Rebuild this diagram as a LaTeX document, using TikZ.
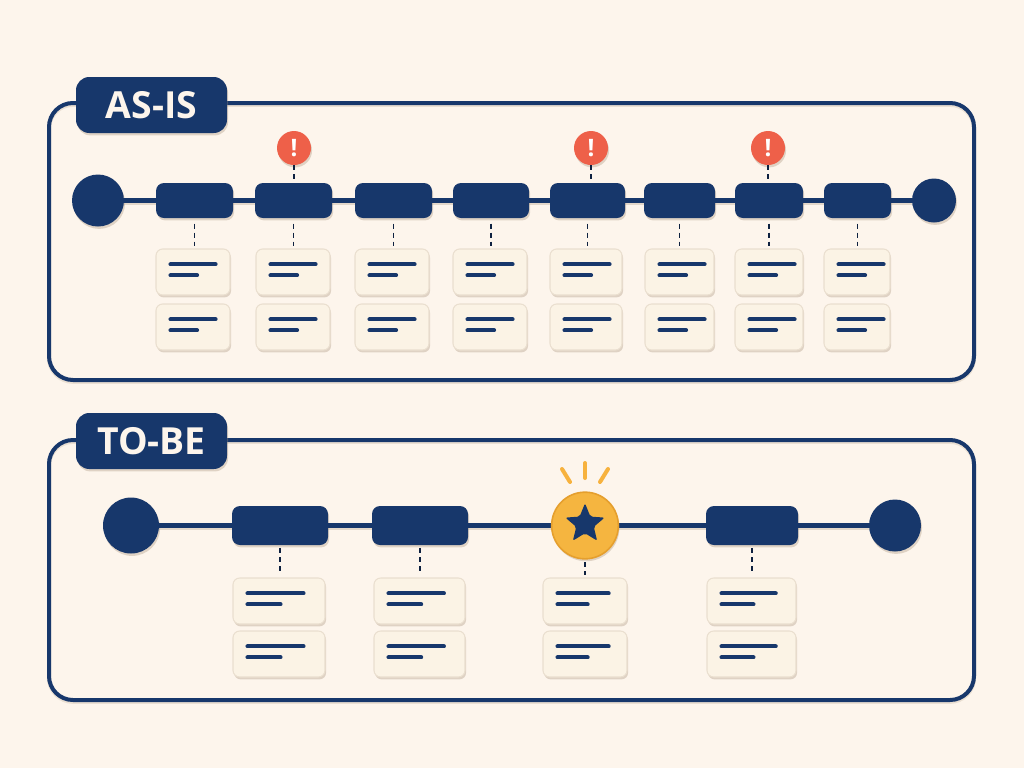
\documentclass[tikz,border=0pt]{standalone}
\usepackage{fontspec}
\setmainfont{Open Sans}
\usetikzlibrary{shadows,shapes.geometric}
\definecolor{bgc}{HTML}{FDF5EC}
\definecolor{navy}{HTML}{17376B}
\definecolor{cardc}{HTML}{FBF3E5}
\definecolor{cardb}{HTML}{EADFCF}
\definecolor{shc}{HTML}{A8937A}
\definecolor{redc}{HTML}{EE6049}
\definecolor{goldc}{HTML}{F5B540}
\definecolor{goldd}{HTML}{E59F2E}
\definecolor{rayc}{HTML}{F7B23E}
\tikzset{
  softshadow/.style={drop shadow={shadow xshift=0.8pt,shadow yshift=-1.8pt,opacity=.35,fill=shc}},
  panelbox/.style={draw=navy,line width=3pt,rounded corners=18pt,inner sep=0pt,outer sep=0pt,
    preaction={draw=shc,opacity=.22,line width=3pt,transform canvas={yshift=-1.4pt}}},
  tabbox/.style={fill=navy,rounded corners=10pt,inner sep=0pt,text=bgc,font=\bfseries\fontsize{28}{30}\selectfont,softshadow},
  stepbox/.style={fill=navy,rounded corners=6pt,inner sep=0pt,softshadow},
  endcircle/.style={circle,fill=navy,inner sep=0pt,softshadow},
  cardbox/.style={fill=cardc,draw=cardb,line width=.8pt,rounded corners=5pt,inner sep=0pt,softshadow},
  alertnode/.style={circle,fill=redc,inner sep=0pt,minimum size=25.5pt,text=white,
    font=\bfseries\fontsize{18}{18}\selectfont,softshadow},
  starcircle/.style={circle,fill=goldc,draw=goldd,line width=1.2pt,inner sep=0pt,minimum size=50pt,softshadow},
  starnode/.style={star,star points=5,star point ratio=2.25,fill=navy,inner sep=0pt,minimum size=31pt,rounded corners=1.5pt},
  flowline/.style={draw=navy,line width=3.8pt,preaction={draw=shc,opacity=.3,line width=3.8pt,transform canvas={yshift=-1.6pt}}},
  dashline/.style={draw=navy!60!black,line width=1.3pt,dash pattern=on 3.8pt off 3pt},
  textline/.style={draw=navy,line width=3pt,line cap=round},
  rayline/.style={draw=rayc,line width=3pt,line cap=round},
}
\newcommand{\rnode}[7]{\node[#1,minimum width={(#4-#3)*0.75pt},minimum height={(#6-#5)*0.75pt}] (#2) at ({(#3+#4)/2},{(#5+#6)/2}) {#7};}
\newcommand{\cardlines}[2]{% card name, width in px
  \pgfmathsetmacro{\lw}{#2*0.61}\pgfmathsetmacro{\ls}{#2*0.36}
  \draw[textline] ([shift={(15,16)}]#1.north west) -- ++(\lw,0);
  \draw[textline] ([shift={(15,27)}]#1.north west) -- ++(\ls,0);
}
\begin{document}
\begin{tikzpicture}[x=0.75pt,y=-0.75pt]
\useasboundingbox (0,0) rectangle (1024,768);
\fill[bgc] (0,0) rectangle (1024,768);

% ---------- AS-IS ----------
\rnode{panelbox}{P1}{49}{974}{103}{380}{}
\rnode{tabbox}{T1}{76}{227}{77}{133}{AS-IS}

\node[endcircle,minimum size=39pt] (as) at (98,200.5) {};
\node[endcircle,minimum size=33pt] (ae) at (934,200.5) {};
\rnode{stepbox}{a1}{156}{233}{183}{218}{}
\rnode{stepbox}{a2}{255}{332}{183}{218}{}
\rnode{stepbox}{a3}{355}{432}{183}{218}{}
\rnode{stepbox}{a4}{453}{529}{183}{218}{}
\rnode{stepbox}{a5}{550}{625}{183}{218}{}
\rnode{stepbox}{a6}{644}{715}{183}{218}{}
\rnode{stepbox}{a7}{735}{803}{183}{218}{}
\rnode{stepbox}{a8}{824}{891}{183}{218}{}
\foreach \u/\v in {as/a1,a1/a2,a2/a3,a3/a4,a4/a5,a5/a6,a6/a7,a7/a8,a8/ae}
  \draw[flowline] (\u) -- (\v);

\foreach \n/\a/\b in {1/156/230,2/256/330,3/355/429,4/453/527,5/550/622,6/645/714,7/735/803,8/824/890}{
  \rnode{cardbox}{ac\n}{\a}{\b}{249}{295}{}
  \rnode{cardbox}{ad\n}{\a}{\b}{304}{350}{}
  \cardlines{ac\n}{74}
  \cardlines{ad\n}{74}
  \draw[dashline,shorten <=4pt,shorten >=2pt] (a\n.south) -- (a\n.south |- ac\n.north);
}
\node[alertnode] (w2) at (294,148) {!};
\node[alertnode] (w5) at (591,148) {!};
\node[alertnode] (w7) at (768,148) {!};
\draw[dashline] (w2.south) -- (w2.south |- a2.north);
\draw[dashline] (w5.south) -- (w5.south |- a5.north);
\draw[dashline] (w7.south) -- (w7.south |- a7.north);

% ---------- TO-BE ----------
\rnode{panelbox}{P2}{49}{974}{440}{700}{}
\rnode{tabbox}{T2}{76}{227}{413}{469}{TO-BE}

\node[endcircle,minimum size=42pt] (bs) at (131,525.5) {};
\node[endcircle,minimum size=39pt] (be) at (895,525.5) {};
\rnode{stepbox}{b1}{232}{328}{506}{545}{}
\rnode{stepbox}{b2}{372}{468}{506}{545}{}
\rnode{stepbox}{b4}{706}{798}{506}{545}{}
\coordinate (b3c) at (585,525.5);
\foreach \u/\v in {bs/b1,b1/b2,b2/b3c,b3c/b4,b4/be}
  \draw[flowline] (\u) -- (\v);
\node[starcircle] (b3) at (b3c) {};
\node[starnode] (st) at (585,524) {};
\coordinate (r1a) at (562,469); \coordinate (r1b) at (570,482);
\coordinate (r2a) at (585,463); \coordinate (r2b) at (585,478);
\coordinate (r3a) at (608,469); \coordinate (r3b) at (600,482);
\draw[rayline] (r1a) -- (r1b);
\draw[rayline] (r2a) -- (r2b);
\draw[rayline] (r3a) -- (r3b);

\foreach \n/\a/\b in {1/233/325,2/374/465,3/543/627,4/707/796}{
  \rnode{cardbox}{bc\n}{\a}{\b}{578}{624}{}
  \rnode{cardbox}{bd\n}{\a}{\b}{631}{677}{}
  \pgfmathsetmacro{\wd}{\b-\a}
  \cardlines{bc\n}{\wd}
  \cardlines{bd\n}{\wd}
  \draw[dashline,shorten <=2pt,shorten >=2pt] (b\n.south) -- (b\n.south |- bc\n.north);
}
\end{tikzpicture}
\end{document}
